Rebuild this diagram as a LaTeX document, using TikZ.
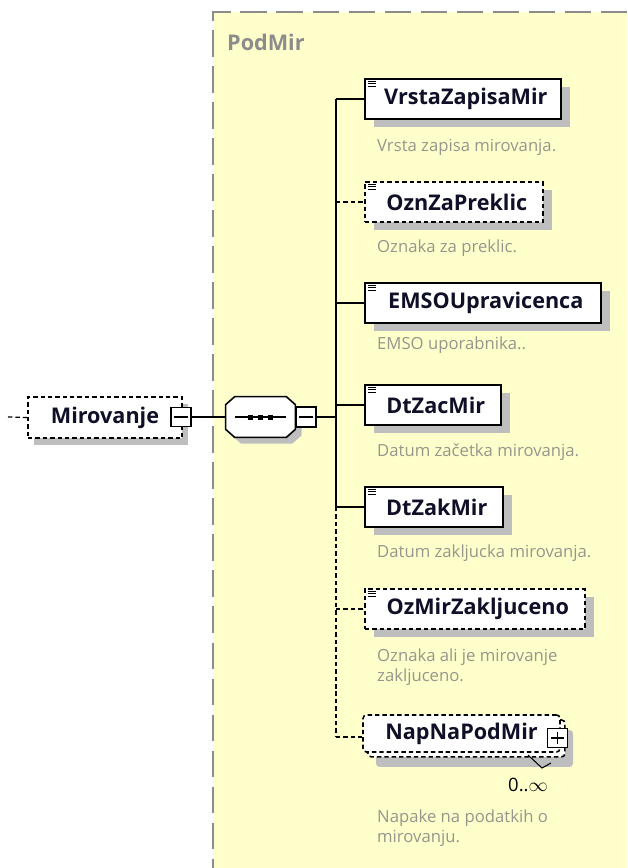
\documentclass[tikz,border=0pt]{standalone}
\usepackage{fontspec}
\setmainfont{Open Sans}
\usetikzlibrary{calc,shadows}

\definecolor{panelyellow}{RGB}{255,255,204}
\definecolor{panelborder}{RGB}{140,140,140}
\definecolor{shadowgray}{RGB}{190,190,190}
\definecolor{descgray}{RGB}{150,150,140}
\definecolor{lblink}{RGB}{15,15,40}
\newdimen\pxu \pxu=0.02cm
\newcommand{\lblfont}{\fontsize{12.3}{14}\selectfont\bfseries}
\newcommand{\descfont}{\fontsize{9.5}{11.2}\selectfont}

\tikzset{
  dashpat/.style={dash pattern=on 2.5pt off 1.7pt},
  conn/.style={line width=.7pt, black},
  box/.style={draw=black, line width=.9pt, fill=white, inner sep=0pt,
    minimum height=40\pxu, font=\lblfont, text=lblink},
  elem/.style={box, drop shadow={shadow xshift=5pt, shadow yshift=-4.5pt,
    fill=shadowgray, opacity=1}},
  optelem/.style={elem, dashpat},
  pm/.style={draw=black, line width=.7pt, fill=white, inner sep=0pt,
    minimum width=20\pxu, minimum height=19\pxu},
  desc/.style={anchor=west, align=left, text=descgray, font=\descfont}
}

\begin{document}
\begin{tikzpicture}[x=0.02cm, y=-0.02cm]
\useasboundingbox (0,0) rectangle (627,868);

\fill[panelyellow] (213,12) rectangle (627,868);
\draw[panelborder, line width=1.1pt, dash pattern=on 15pt off 5.5pt]
  (627,12) -- (213,12) -- (213,868);
\node[anchor=west, font=\lblfont, text=panelborder] (podmir) at (221,42) {PodMir};

\node[box, dashpat, minimum width=154\pxu, minimum height=41\pxu,
  drop shadow={shadow xshift=3.5pt, shadow yshift=-4pt, fill=shadowgray, opacity=1}]
  (mir) at (105,417.5) {Mirovanje\hspace{14\pxu}};
\node[pm] (mirminus) at (181,417) {};
\draw[conn] ([shift={(4,0)}]mirminus.west) -- ([shift={(-4,0)}]mirminus.east);
\coordinate (mirin) at (8,417);
\draw[conn, dashpat] (mirin) -- (mir.west);

\node[minimum width=69\pxu, minimum height=40\pxu, inner sep=0pt] (seq) at (260.5,417) {};
\draw[line width=.9pt, fill=white,
  drop shadow={shadow xshift=3.5pt, shadow yshift=-3.5pt, fill=shadowgray, opacity=1}]
  ([shift={(9,0)}]seq.north west) -- ([shift={(-9,0)}]seq.north east)
  -- ([shift={(0,8)}]seq.north east) -- ([shift={(0,-8)}]seq.south east)
  -- ([shift={(-9,0)}]seq.south east) -- ([shift={(9,0)}]seq.south west)
  -- ([shift={(0,-8)}]seq.south west) -- ([shift={(0,8)}]seq.north west) -- cycle;
\draw[conn] ([shift={(9,0)}]seq.west) -- ([shift={(-9,0)}]seq.east);
\foreach \d in {-10,0,10}
  \fill ([shift={(\d-2.5,-2.5)}]seq.center) rectangle +(5,5);
\node[pm, minimum height=20\pxu] (seqminus) at (306,417) {};
\draw[conn] ([shift={(4,0)}]seqminus.west) -- ([shift={(-4,0)}]seqminus.east);
\coordinate (s-seq) at (336,417);
\draw[conn] (mirminus.east) -- (seq.west);
\draw[conn] (seqminus.east) -- (s-seq);

\foreach \n/\y/\w/\t in {vrsta/99/196/VrstaZapisaMir, emso/303/236/EMSOUpravicenca,
    zac/405/136/DtZacMir, zak/507/138/DtZakMir} {
  \node[elem, anchor=west, minimum width=\w\pxu] (\n) at (364,\y) {\hspace{6\pxu}\t};
  \foreach \k in {3,5.5,8}
    \draw[line width=.6pt] ([shift={(4,\k)}]\n.north west) -- +(8,0);
  \coordinate (s-\n) at (336,\y);
  \draw[conn] (s-\n) -- (\n.west);
}

\foreach \n/\y/\w/\t in {ozn/202/178/OznZaPreklic, ozmir/609/220/OzMirZakljuceno} {
  \node[optelem, anchor=west, minimum width=\w\pxu] (\n) at (364,\y) {\hspace{6\pxu}\t};
  \foreach \k in {3,5.5,8}
    \draw[line width=.6pt] ([shift={(4,\k)}]\n.north west) -- +(8,0);
  \coordinate (s-\n) at (336,\y);
  \draw[conn, dashpat] (s-\n) -- (\n.west);
}

\node[box, dashpat, minimum width=197\pxu, minimum height=37\pxu, rounded corners=2pt,
  drop shadow={shadow xshift=7.4pt, shadow yshift=-8.5pt, fill=shadowgray, opacity=1},
  copy shadow={shadow xshift=2.8pt, shadow yshift=-2.8pt, fill=white, draw=black,
    line width=.9pt, dashpat}]
  (nap) at (461.5,733.5) {NapNaPodMir\hspace{8\pxu}};
\node[pm] (napplus) at (557.5,738) {};
\draw[conn] ([shift={(4,0)}]napplus.west) -- ([shift={(-4,0)}]napplus.east);
\draw[conn] ([shift={(0,4)}]napplus.north) -- ([shift={(0,-4)}]napplus.south);
\coordinate (s-nap) at (336,737);
\draw[conn, dashpat] (s-nap) -- (nap.west |- s-nap);
\draw[line width=.6pt] (528,755) -- (542,768) -- (551,763);
\node[font=\fontsize{10.5}{12}\selectfont] (napcard) at (528,785) {0..$\infty$};

\draw[conn] (s-vrsta) -- (s-zak);
\draw[conn, dashpat] (s-zak) -- (s-nap);

\foreach \n/\y/\t in {vrsta/147/Vrsta zapisa mirovanja., ozn/248/Oznaka za preklic.,
    emso/345/EMSO uporabnika.., zac/452/Datum začetka mirovanja.,
    zak/553/Datum zakljucka mirovanja., ozmir/667/Oznaka ali je mirovanje\\zakljuceno.,
    nap/828/Napake na podatkih o\\mirovanju.}
  \node[desc] (d-\n) at (371,\y) {\t};
\end{tikzpicture}
\end{document}
